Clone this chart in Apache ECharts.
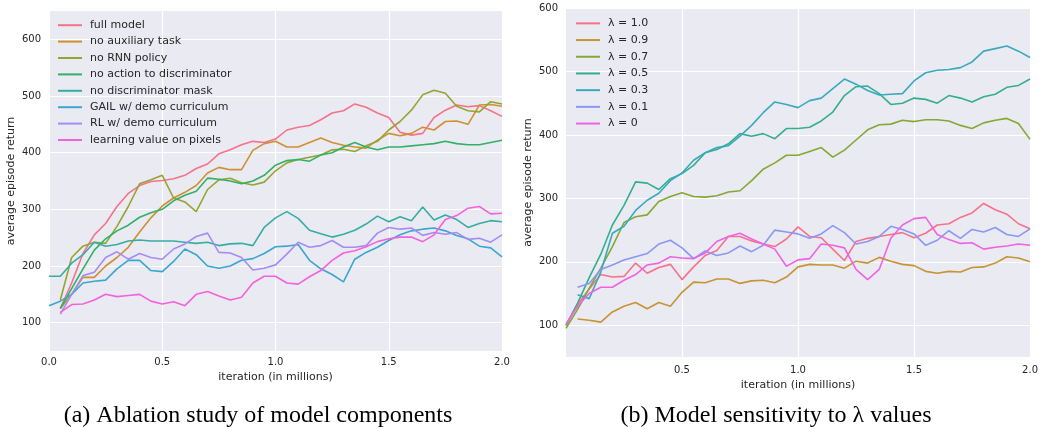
<!DOCTYPE html>
<html>
<head>
<meta charset="utf-8">
<title>ablation and lambda sensitivity</title>
<script src="https://cdn.jsdelivr.net/npm/echarts@6/dist/echarts.min.js"></script>
<style>
	html, body { margin: 0; padding: 0; background: #fff; }
	#chart { width: 1041px; height: 429px; }
</style>
</head>
<body>
<div id="chart"></div>
<script>
// iteration (in millions), shared by every curve
var iters = [0.0, 0.05, 0.1, 0.15, 0.2, 0.25, 0.3, 0.35, 0.4, 0.45, 0.5, 0.55, 0.6, 0.65, 0.7, 0.75, 0.8, 0.85, 0.9, 0.95,
	1.0, 1.05, 1.1, 1.15, 1.2, 1.25, 1.3, 1.35, 1.4, 1.45, 1.5, 1.55, 1.6, 1.65, 1.7, 1.75, 1.8, 1.85, 1.9, 1.95, 2.0];

// (a) ablation study
var fullModel = [null, 125, 170, 222, 255, 275, 305, 328, 342, 349, 351, 354, 360, 372, 380, 398, 405, 414, 420, 418, 424, 440, 445, 448, 458, 470, 474, 486, 480, 470, 462, 436, 431, 434, 462, 475, 484, 481, 483, 474, 464];
var noAuxTask = [null, 125, 150, 180, 180, 200, 215, 233, 260, 285, 306, 320, 330, 342, 364, 374, 370, 370, 404, 416, 420, 410, 410, 418, 426, 418, 413, 410, 408, 422, 434, 430, 434, 445, 440, 455, 456, 450, 484, 485, 482];
var noRnn = [null, 140, 215, 235, 242, 240, 270, 305, 345, 352, 360, 320, 313, 296, 335, 352, 355, 347, 343, 348, 368, 382, 388, 392, 396, 405, 406, 402, 412, 420, 440, 455, 475, 502, 510, 505, 482, 474, 472, 490, 486];
var noActionDisc = [null, 125, 160, 195, 228, 248, 262, 272, 286, 294, 300, 315, 325, 332, 355, 353, 350, 345, 350, 360, 378, 386, 388, 385, 396, 400, 410, 418, 410, 405, 410, 410, 412, 414, 416, 420, 416, 414, 414, 418, 422];
var noDiscMask = [182, 182, 205, 220, 242, 235, 238, 244, 246, 244, 244, 244, 242, 240, 242, 236, 239, 240, 236, 268, 285, 296, 284, 263, 257, 251, 256, 263, 274, 288, 278, 287, 280, 304, 281, 290, 282, 268, 275, 280, 278];
var gailCurric = [130, 138, 150, 170, 173, 175, 195, 210, 210, 192, 190, 208, 230, 220, 200, 196, 200, 210, 213, 222, 234, 235, 238, 210, 195, 185, 172, 212, 224, 233, 245, 255, 262, 265, 267, 262, 254, 248, 235, 232, 216];
var rlCurric = [null, 115, 150, 183, 189, 215, 225, 212, 222, 215, 212, 230, 239, 252, 258, 224, 223, 215, 193, 196, 202, 221, 242, 233, 236, 245, 233, 233, 236, 258, 268, 265, 267, 254, 259, 256, 259, 247, 249, 242, 255];
var pixelValue = [null, 118, 132, 133, 140, 150, 146, 148, 150, 138, 133, 137, 130, 150, 155, 147, 140, 145, 170, 182, 182, 170, 168, 181, 192, 210, 223, 227, 234, 243, 248, 251, 251, 243, 255, 282, 289, 302, 305, 292, 293];

// (b) lambda sensitivity
var lam10 = [100, 133, 157, 180, 176, 177, 198, 182, 191, 196, 172, 192, 210, 218, 240, 240, 233, 228, 224, 236, 255, 240, 238, 220, 202, 232, 237, 240, 243, 246, 238, 245, 258, 260, 270, 277, 292, 282, 275, 260, 252];
var lam09 = [null, 110, 108, 105, 121, 130, 136, 126, 136, 130, 152, 168, 167, 173, 173, 166, 170, 171, 167, 176, 192, 196, 195, 195, 190, 201, 198, 207, 201, 196, 194, 185, 182, 185, 184, 191, 192, 198, 208, 206, 200];
var lam07 = [95, 125, 158, 190, 224, 262, 271, 274, 295, 303, 309, 303, 302, 304, 310, 312, 328, 346, 356, 368, 368, 374, 380, 365, 376, 392, 408, 416, 417, 423, 421, 424, 424, 422, 415, 410, 419, 423, 426, 418, 393];
var lam05 = [100, 135, 175, 212, 258, 289, 326, 324, 314, 331, 339, 352, 372, 377, 386, 402, 398, 402, 394, 410, 410, 412, 422, 436, 462, 476, 477, 465, 448, 450, 458, 456, 450, 462, 458, 452, 460, 464, 475, 478, 488];
var lam03 = [null, 148, 142, 184, 245, 256, 281, 297, 308, 328, 340, 360, 372, 380, 383, 398, 415, 435, 452, 448, 443, 454, 458, 473, 488, 480, 470, 463, 464, 465, 485, 498, 502, 503, 506, 515, 532, 536, 540, 532, 522];
var lam01 = [null, 160, 166, 188, 195, 203, 208, 213, 228, 234, 222, 205, 217, 210, 214, 225, 216, 226, 250, 247, 244, 237, 244, 257, 246, 228, 232, 240, 256, 251, 244, 226, 234, 249, 237, 251, 247, 254, 243, 240, 252];
var lam00 = [102, 130, 150, 160, 160, 171, 180, 195, 198, 208, 206, 205, 214, 232, 240, 245, 236, 228, 220, 193, 203, 205, 228, 226, 222, 188, 172, 188, 237, 258, 268, 270, 243, 235, 229, 230, 220, 223, 225, 228, 226];

var leftNames = ['full model', 'no auxiliary task', 'no RNN policy', 'no action to discriminator',
	'no discriminator mask', 'GAIL w/ demo curriculum', 'RL w/ demo curriculum', 'learning value on pixels'];
var leftValues = [fullModel, noAuxTask, noRnn, noActionDisc, noDiscMask, gailCurric, rlCurric, pixelValue];
var leftColors = ['#f77189', '#ce9032', '#97a431', '#32b166', '#36ada4', '#39a7d0', '#a48cf4', '#f561dd'];

var rightNames = ['λ = 1.0', 'λ = 0.9', 'λ = 0.7', 'λ = 0.5', 'λ = 0.3', 'λ = 0.1', 'λ = 0'];
var rightValues = [lam10, lam09, lam07, lam05, lam03, lam01, lam00];
var rightColors = ['#f77189', '#c69432', '#86a833', '#34af8c', '#38aabf', '#8a97f3', '#f062e3'];

var leftYTicks = [100, 200, 300, 400, 500, 600];
var rightYTicks = [100, 200, 300, 400, 500, 600];
var rightXTicks = [0.5, 1.0, 1.5, 2.0];

var FONT = 'DejaVu Sans';
var INK = '#262626';

function toPairs(vals) {
	var out = [];
	for (var i = 0; i < iters.length; i++) {
		if (vals[i] !== null) {
			out.push([ iters[i], vals[i] ]);
		}
	}
	return out;
}

function makeSeries(names, values, colors, axisIndex) {
	var list = [];
	for (var i = 0; i < names.length; i++) {
		list.push({
			type : 'line',
			name : names[i],
			xAxisIndex : axisIndex,
			yAxisIndex : axisIndex,
			data : toPairs(values[i]),
			showSymbol : false,
			color : colors[i],
			lineStyle : {
				width : 1.6
			}
		});
	}
	return list;
}

function xAxisFor(gridIndex, top, custom) {
	var axis = {
		type : 'value',
		gridIndex : gridIndex,
		min : 0,
		max : 2,
		interval : 0.5,
		name : 'iteration (in millions)',
		nameLocation : 'middle',
		nameGap : 20,
		nameTextStyle : { fontFamily : FONT, fontSize : 11, color : INK },
		axisLine : { show : false },
		axisTick : { show : false },
		axisLabel : {
			fontFamily : FONT,
			fontSize : 10,
			color : INK,
			margin : top,
			formatter : function(v) { return v.toFixed(1); }
		},
		splitLine : { lineStyle : { color : '#ffffff', width : 1.2 } }
	};
	if (custom) {
		axis.axisTick.customValues = custom;
		axis.axisLabel.customValues = custom;
	}
	return axis;
}

function yAxisFor(gridIndex, min, max, ticks) {
	return {
		type : 'value',
		gridIndex : gridIndex,
		min : min,
		max : max,
		name : 'average episode return',
		nameLocation : 'middle',
		nameGap : 32,
		nameTextStyle : { fontFamily : FONT, fontSize : 11, color : INK },
		axisLine : { show : false },
		axisTick : { show : false, customValues : ticks },
		axisLabel : { fontFamily : FONT, fontSize : 10, color : INK, margin : 8, customValues : ticks },
		splitLine : { lineStyle : { color : '#ffffff', width : 1.2 } }
	};
}

function legendFor(names, left, top, rowHeight) {
	return {
		data : names,
		orient : 'vertical',
		left : left,
		top : top,
		padding : 0,
		itemGap : 0,
		itemWidth : 24,
		itemHeight : 2,
		icon : 'rect',
		selectedMode : false,
		textStyle : {
			fontFamily : FONT,
			fontSize : 11,
			color : INK,
			lineHeight : rowHeight,
			padding : [ 0, 0, 0, 3 ]
		}
	};
}

var chart = echarts.init(document.getElementById('chart'), null, { renderer : 'canvas' });

var option = {
	animation : false,
	backgroundColor : '#ffffff',
	grid : [ {
		left : 49,
		top : 11,
		width : 453,
		height : 340,
		show : true,
		backgroundColor : '#eaeaf2',
		borderWidth : 0
	}, {
		left : 566,
		top : 8,
		width : 465,
		height : 349,
		show : true,
		backgroundColor : '#eaeaf2',
		borderWidth : 0
	} ],
	xAxis : [ xAxisFor(0, 6, null), xAxisFor(1, 8, rightXTicks) ],
	yAxis : [ yAxisFor(0, 50, 650, leftYTicks), yAxisFor(1, 50, 600, rightYTicks) ],
	legend : [ legendFor(leftNames, 58, 17, 16.4), legendFor(rightNames, 576, 15, 16.7) ],
	graphic : [ {
		type : 'text',
		x : 258,
		y : 416,
		style : {
			text : '(a) Ablation study of model components',
			fontFamily : 'Liberation Serif',
			fontSize : 24,
			fill : '#000000',
			align : 'center',
			verticalAlign : 'middle'
		}
	}, {
		type : 'text',
		x : 776,
		y : 416,
		style : {
			text : '(b) Model sensitivity to λ values',
			fontFamily : 'Liberation Serif',
			fontSize : 24,
			fill : '#000000',
			align : 'center',
			verticalAlign : 'middle'
		}
	} ],
	series : makeSeries(leftNames, leftValues, leftColors, 0).concat(makeSeries(rightNames, rightValues, rightColors, 1))
};

chart.setOption(option);

window.onresize = function() {
	chart.resize();
};
</script>
</body>
</html>
